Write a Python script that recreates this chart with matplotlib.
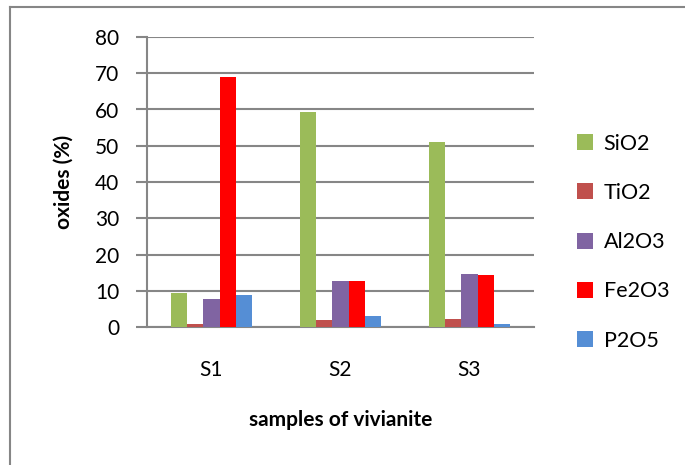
import matplotlib
matplotlib.use('Agg')
import matplotlib.pyplot as plt
import numpy as np
from matplotlib.patches import Patch
from matplotlib.lines import Line2D

plt.rcParams['font.family'] = ['Lato', 'DejaVu Sans']

samples = ['S1', 'S2', 'S3']
oxides = ['SiO2', 'TiO2', 'Al2O3', 'Fe2O3', 'P2O5']
sio2 = [9.5, 59.4, 51.0]
tio2 = [0.7, 1.8, 2.2]
al2o3 = [7.6, 12.7, 14.5]
fe2o3 = [68.9, 12.6, 14.3]
p2o5 = [8.9, 2.9, 0.9]
colors = ['#9bbb59', '#c0504d', '#8064a2', '#ff0000', '#558ed5']

series = [sio2, tio2, al2o3, fe2o3, p2o5]
axis_gray = '#868686'

fig = plt.figure(figsize=(6.85, 4.65), dpi=100)
ax = fig.add_axes([147 / 685, 1 - 327 / 465, 387 / 685, 290 / 465])

x = np.arange(len(samples))
w = 0.125
for i, (vals, name, c) in enumerate(zip(series, oxides, colors)):
    ax.bar(x + (i - 2) * w, vals, width=w, color=c, label=name, zorder=3)

ax.set_xlim(-0.5, 2.5)
ax.set_ylim(0, 80)
ax.set_yticks(range(0, 81, 10))
ax.set_xticks(x)
ax.set_xticklabels(samples)
ax.yaxis.grid(True, color=axis_gray, linewidth=1.5, zorder=0)
for side in ['top', 'right']:
    ax.spines[side].set_visible(False)
for side in ['left', 'bottom']:
    ax.spines[side].set_color(axis_gray)
    ax.spines[side].set_linewidth(1.5)
ax.tick_params(axis='y', length=8, width=1.5, color=axis_gray, labelsize=15, pad=12)
ax.tick_params(axis='x', length=0, labelsize=15, pad=24)

ax.set_xlabel('samples of vivianite', fontsize=15, fontweight='bold', labelpad=21)
ax.set_ylabel('oxides (%)', fontsize=15, fontweight='bold', labelpad=15)

handles = [Patch(facecolor=c, label=n) for c, n in zip(colors, oxides)]
fig.legend(handles=handles, loc='upper left', bbox_to_anchor=(568 / 685, 1 - 125 / 465),
           frameon=False, fontsize=15.5, handlelength=0.75, handleheight=0.75,
           handletextpad=0.5, labelspacing=1.36, borderaxespad=0)

# outer chart frame
fig.add_artist(Line2D([10 / 685, 10 / 685], [0, 1 - 7 / 465], color=axis_gray, linewidth=1.5))
fig.add_artist(Line2D([10 / 685, 1], [1 - 7 / 465, 1 - 7 / 465], color=axis_gray, linewidth=1.5))

fig.savefig('out.png', dpi=100)
